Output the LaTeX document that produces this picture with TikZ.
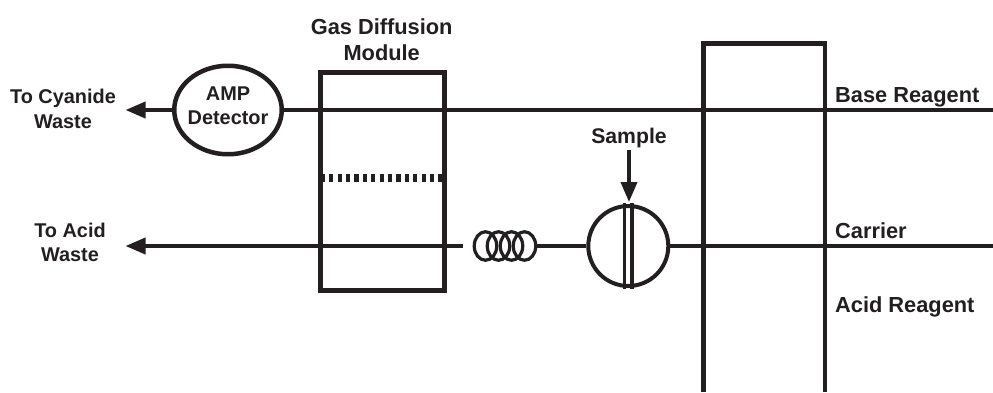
\documentclass[tikz,border=0pt]{standalone}
\usepackage{fontspec}
\setmainfont{Liberation Sans}
\usetikzlibrary{arrows.meta,shapes.geometric}
\definecolor{ink}{HTML}{231F20}
\tikzset{
 lbl/.style={font=\fontsize{21.8bp}{24.5bp}\selectfont\bfseries,text=ink,align=center,inner sep=0pt},
 slbl/.style={lbl,font=\fontsize{19.9bp}{24.4bp}\selectfont\bfseries},
 llbl/.style={lbl,anchor=base west},
 pipe/.style={draw=ink,line width=3.8bp},
 arrowpipe/.style={pipe,-{Triangle[length=20bp,width=16bp]}},
 boxline/.style={draw=ink,line width=4.8bp},
 coilring/.style={draw=ink,line width=3.2bp,ellipse,minimum width=22.5bp,minimum height=28.5bp,inner sep=0pt},
}
\begin{document}
\begin{tikzpicture}[x=1bp,y=-1bp]
\useasboundingbox (0,0) rectangle (993,392);
% free ends
\coordinate (baseR) at (993,110);
\coordinate (carrR) at (993,246);
\coordinate (wasteA) at (125.5,110);
\coordinate (wasteB) at (125.5,246);
\coordinate (sampleTop) at (629,150);
\coordinate (bl) at (703.5,392);
\coordinate (tl) at (703.5,43.5);
\coordinate (tr) at (825,43.5);
\coordinate (br) at (825,392);
\coordinate (coilL) at (462.7,246);
% shapes
\node[boxline,minimum width=123.5bp,minimum height=218bp,inner sep=0pt] (module) at (382.5,181.4) {};
\draw[boxline] (bl) -- (tl) -- (tr) -- (br);
\node[draw=ink,line width=4.5bp,ellipse,minimum width=107.5bp,minimum height=88.5bp,inner sep=0pt] (amp) at (228,110) {};
\node[slbl] (amptext) at (228,105.5) {AMP\\Detector};
\node[draw=ink,line width=4bp,circle,minimum size=80bp,inner sep=0pt] (valve) at (628.3,246) {};
\node[coilring] (c1) at (485.5,246) {};
\node[coilring] (c2) at (498.5,246) {};
\node[coilring] (c3) at (511.5,246) {};
\node[coilring] (c4) at (524.5,246) {};
% valve bars
\draw[draw=ink,line width=3.8bp] ([xshift=-3.8bp,yshift=1bp]valve.north) -- ([xshift=-3.8bp,yshift=-1bp]valve.south);
\draw[draw=ink,line width=3.8bp] ([xshift=3.8bp,yshift=1bp]valve.north) -- ([xshift=3.8bp,yshift=-1bp]valve.south);
% membrane
\draw[draw=ink,line width=7.8bp,dash pattern=on 4.2bp off 4.2bp] ([yshift=3.5bp,xshift=2.5bp]module.west) -- ([yshift=3.5bp]module.east);
% pipes
\draw[pipe] (amp.east) -- (baseR);
\draw[arrowpipe] (amp.west) -- (wasteA);
\draw[pipe] (valve.east) -- (carrR);
\draw[pipe] (valve.west) -- (c4.east);
\draw[arrowpipe] (coilL) -- (wasteB);
\draw[arrowpipe] (sampleTop) -- ([yshift=2bp,xshift=0.7bp]valve.north);
% labels
\node[lbl] (gdm) at (381.7,40) {Gas Diffusion\\[1.5bp]Module};
\node[slbl] (cw) at (63,109) {To Cyanide\\Waste};
\node[slbl] (aw) at (70,242.5) {To Acid\\Waste};
\node[lbl,anchor=base,font=\fontsize{21.2bp}{24.5bp}\selectfont\bfseries] (sample) at (629,143) {Sample};
\node[llbl] (br1) at (835,102) {Base Reagent};
\node[llbl] (ca) at (835,238) {Carrier};
\node[llbl] (ar) at (835,312) {Acid Reagent};
\end{tikzpicture}
\end{document}
